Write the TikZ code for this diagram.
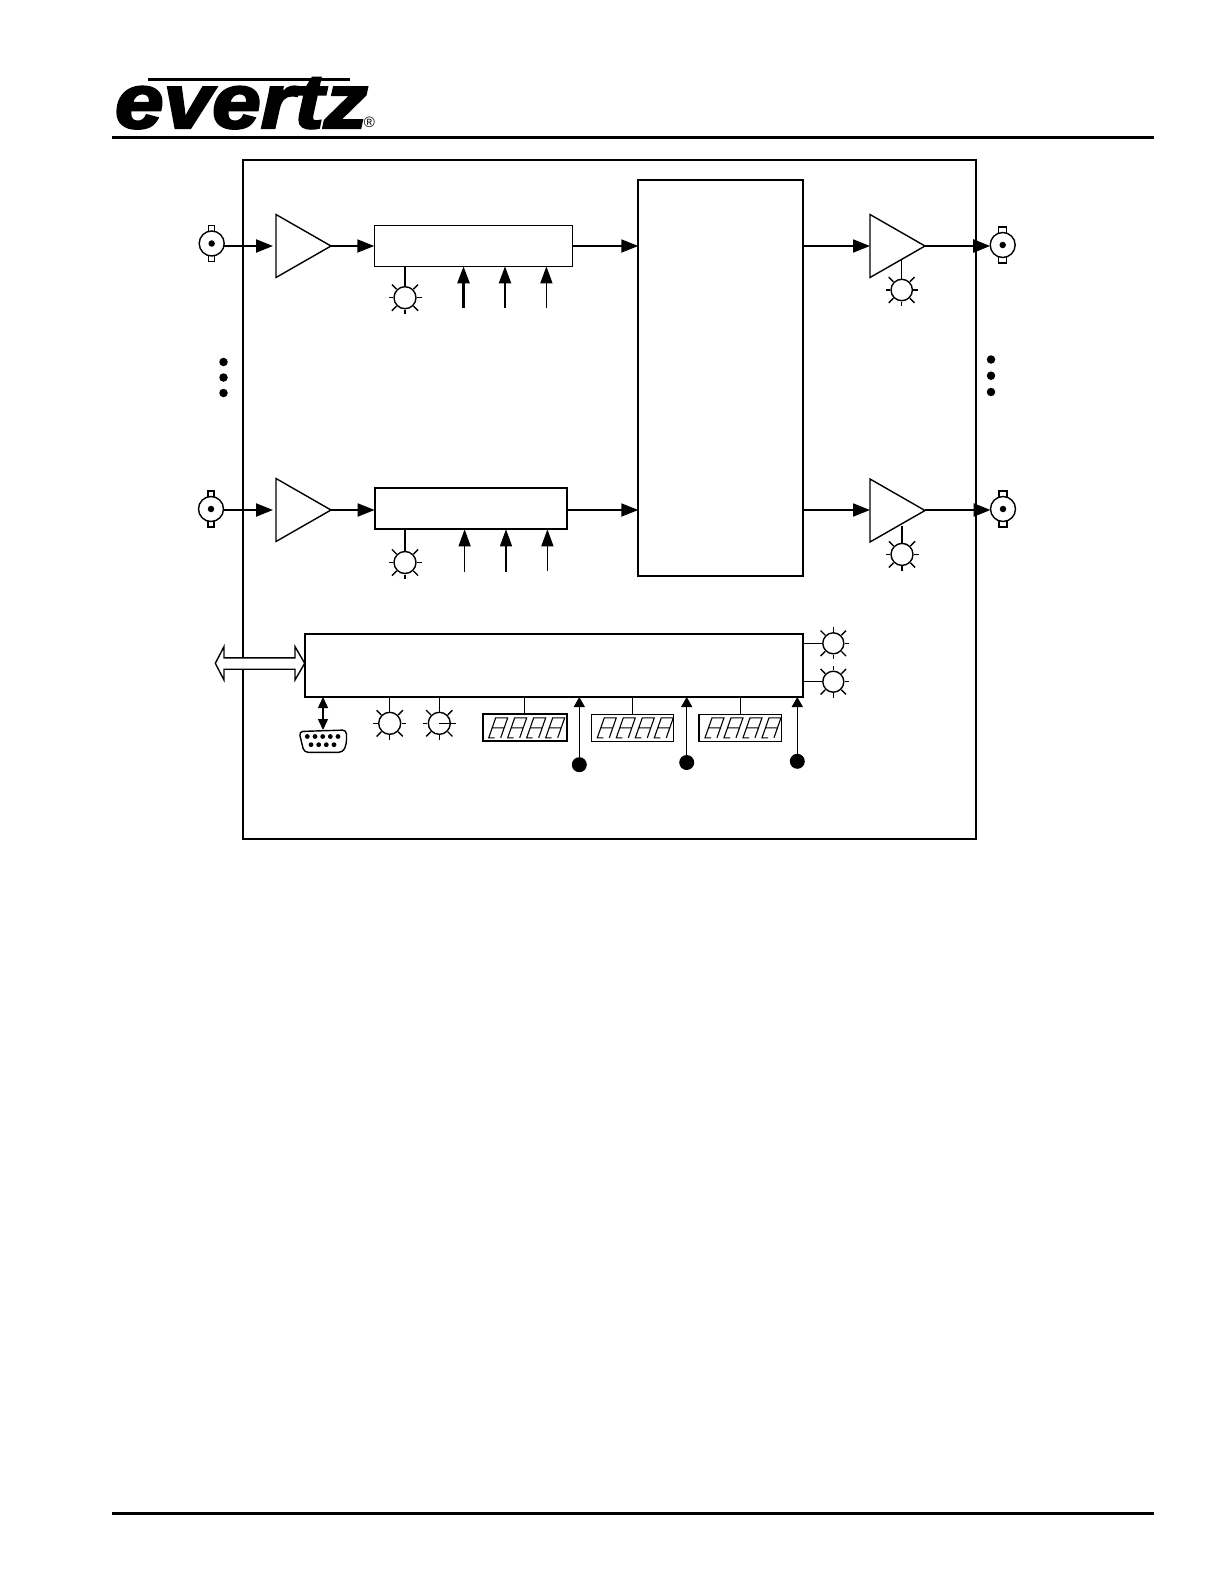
\documentclass[tikz,border=0pt]{standalone}
\usepackage{fontspec}
\usetikzlibrary{arrows.meta,shapes.geometric,calc}
\newfontfamily\logofont[BoldItalicFeatures={FakeBold=3}]{Liberation Sans}
\newfontfamily\markfont{Liberation Sans}
\tikzset{
  x=1pt,y=-1pt,
  every node/.style={inner sep=0pt,outer sep=0pt},
  ln/.style={line width=1.4pt},
  tie/.style={line width=1.1pt},
  flow/.style={line width=1.8pt},
  heavy/.style={line width=2.2pt},
  head/.style={-{Triangle[length=17pt,width=13pt]}},
  ctlhead/.style={-{Triangle[length=17pt,width=12pt]}},
  smallhead/.style={-{Triangle[length=10pt,width=11pt]}},
  block/.style={draw,line width=1.4pt,anchor=north west,fill=white},
  amp/.style={draw,line width=1.4pt,isosceles triangle,isosceles triangle stretches,
     minimum width=63pt,minimum height=55pt,anchor=west,fill=white},
  lamp/.style={draw,circle,line width=1.4pt,fill=white},
  bncbody/.style={draw,circle,line width=1.4pt,fill=white,minimum size=25pt},
  pin/.style={circle,fill=black,minimum size=#1},
  readout/.style={draw,anchor=north west,minimum height=27pt,fill=white},
  seg/.style={line width=1.1pt,line join=miter},
}
\newcommand{\lampat}[4]{% name, x, y, radius
  \node[lamp,minimum size=#4*2pt] (#1) at (#2,#3) {};
  \foreach \a in {0,90,180,270}
    \draw[ln] ($(#2,#3)$) ++(\a:#4+1) -- ++(\a:4.5);
  \foreach \a in {45,135,225,315}
    \draw[ln] ($(#2,#3)$) ++(\a:#4+1) -- ++(\a:6.5);
}
\newcommand{\bncat}[4]{% name, x, y, tab width
  \draw[ln,fill=white] (#2-#4/2,#3-18) rectangle (#2+#4/2,#3+18);
  \node[bncbody] (#1) at (#2,#3) {};
  \node[pin=6.5pt] at (#1.center) {};
}
\newcommand{\digitsat}[2]{% left x of readout, top y
  \foreach \i in {0,1,2,3}{
    \draw[seg] ($(#1+6+\i*19+6,#2+23.5)$) -- ++(-6,0) -- ++(7,-20) -- ++(12,0) -- ++(-7,20)
       ($(#1+9.5+\i*19,#2+13.5)$) -- ++(12,0);
  }
}
\begin{document}
\begin{tikzpicture}
\useasboundingbox (0,0) rectangle (1224,1584);
% header
\draw[line width=3pt] (148,79.3) -- (350,79.3);
\node[anchor=base west,font=\logofont\bfseries\itshape\fontsize{77}{77}\selectfont,xscale=1.135] (logo) at (115,128) {evertz};
\node[font=\markfont\fontsize{15}{15}\selectfont] (reg) at (369.3,122.3) {®};
\draw[line width=3pt] (112,137.5) -- (1154,137.5);
\draw[line width=3pt] (112,1513) -- (1154,1513);
% outer frame
\node[draw,line width=2pt,anchor=north west,minimum width=733pt,minimum height=679.5pt] (frame) at (243,159.5) {};
% dots
\foreach \n/\x/\y in {a/223.5/362,b/223.5/377.5,c/223.5/393,d/991/359.5,e/991/375.7,f/991/392}
  \node[pin=8.5pt] (dot\n) at (\x,\y) {};
% matrix
\node[block,line width=1.7pt,minimum width=165pt,minimum height=396pt] (core) at (638.3,179.8) {};
% row 1
\bncat{inA}{211.7}{243.5}{6}
\node[amp] (ampA) at (276,246) {};
\node[block,minimum width=198pt,minimum height=41pt] (procA) at (374.3,225.3) {};
\node[amp] (drvA) at (870,246) {};
\bncat{outA}{1002.7}{245}{8}
\draw[heavy,head] (inA.east |- ampA.west) -- ([xshift=-3pt]ampA.west);
\draw[flow,head] (ampA.apex) -- (procA.west |- ampA.apex);
\draw[flow,head] (procA.east |- ampA.apex) -- (core.west |- ampA.apex);
\draw[flow,head] (core.east |- drvA.west) -- (drvA.west);
\draw[line width=2.5pt,head] (drvA.apex) -- (outA.west |- drvA.apex);
\lampat{ledA}{405}{297.7}{11}
\draw[ln] (ledA.north) -- (ledA.north |- procA.south);
\lampat{ledAo}{901.7}{290}{10.7}
\draw[ln] (ledAo.north) -- (901.7,259.3);
\coordinate (ca1) at (463.5,308); \coordinate (ca2) at (505,308); \coordinate (ca3) at (546.4,308);
\draw[line width=2.5pt,ctlhead] (ca1) -- (ca1 |- procA.south);
\draw[heavy,ctlhead] (ca2) -- (ca2 |- procA.south);
\draw[ln,ctlhead] (ca3) -- (ca3 |- procA.south);
% row 2
\bncat{inB}{211}{509}{6}
\node[amp] (ampB) at (276,510) {};
\node[block,line width=1.9pt,minimum width=192pt,minimum height=41.5pt] (procB) at (374.7,487.8) {};
\node[amp] (drvB) at (870,510.5) {};
\bncat{outB}{1003}{509}{8}
\draw[heavy,head] (inB.east |- ampB.west) -- ([xshift=-3pt]ampB.west);
\draw[flow,head] (ampB.apex) -- (procB.west |- ampB.apex);
\draw[flow,head] (procB.east |- ampB.apex) -- (core.west |- ampB.apex);
\draw[flow,head] (core.east |- ampB.apex) -- (drvB.west |- ampB.apex);
\draw[line width=2.5pt,head] (drvB.apex |- ampB.apex) -- (outB.west |- ampB.apex);
\lampat{ledB}{405}{562.5}{11}
\draw[ln] (ledB.north) -- (ledB.north |- procB.south);
\lampat{ledBo}{902}{554.4}{11}
\draw[ln] (ledBo.north) -- (902,526);
\coordinate (cb1) at (464.6,571.6); \coordinate (cb2) at (506,571.6); \coordinate (cb3) at (547.4,571);
\draw[ln,ctlhead] (cb1) -- (cb1 |- procB.south);
\draw[ln,ctlhead] (cb2) -- (cb2 |- procB.south);
\draw[ln,ctlhead] (cb3) -- (cb3 |- procB.south);
% control block
\node[block,line width=2.2pt,minimum width=498.6pt,minimum height=63pt] (ctrl) at (304.7,634) {};
\coordinate (busL) at (215.3,663.3);
\draw[line width=1.4pt,fill=white] (busL) -- (224,646.6) -- (224,657.8) -- (295,657.8) -- (295,646.6) -- (ctrl.west |- busL) -- (295,680) -- (295,669.2) -- (224,669.2) -- (224,680) -- cycle;
\lampat{ledC}{833.3}{643.3}{10.5}
\lampat{ledD}{833.3}{681.7}{10.5}
\draw[ln] (ledC.west) -- (ledC.west -| ctrl.east);
\draw[ln] (ledD.west) -- (ledD.west -| ctrl.east);
% serial port
\node[minimum width=48pt,minimum height=22pt] (port) at (323,741) {};
\draw[ln,rounded corners=4pt] (299,731.5) -- (346.5,730) -- (346.5,744) -- (343,752.3) -- (304,752.3) -- cycle;
\foreach \x in {307.3,315,322.7,330.3,338} \node[pin=4.8pt] at (\x,736.5) {};
\foreach \x in {311,318.7,326.3,334} \node[pin=4.8pt] at (\x,744.7) {};
\draw[ln,{Triangle[length=11pt,width=10pt]}-{Triangle[length=11pt,width=10pt]}] (port.north |- ctrl.south) -- (port.north);
% lamps below
\lampat{ledE}{389.7}{723.3}{11}
\draw[tie] (ledE.north) -- (ledE.north |- ctrl.south);
\lampat{ledF}{439.3}{723.3}{11}
\draw[tie] (ledF.north) -- (ledF.north |- ctrl.south);
\draw[ln] (ledF.center) -- (ledF.east);
% readouts
\node[readout,line width=2.2pt,minimum width=84.3pt] (dispA) at (482.7,714.3) {};
\digitsat{482.7}{714.3}
\node[readout,line width=1.2pt,minimum width=82.3pt] (dispB) at (591.3,714.3) {};
\digitsat{591.3}{714.3}
\node[readout,line width=1.2pt,minimum width=82.7pt] (dispC) at (699,714.3) {};
\digitsat{699}{714.3}
\draw[tie] (dispA.north) -- (dispA.north |- ctrl.south);
\draw[tie] (dispB.north) -- (dispB.north |- ctrl.south);
\draw[tie] (dispC.north) -- (dispC.north |- ctrl.south);
% buttons
\node[pin=15pt] (btnA) at (579.3,764.7) {};
\node[pin=15pt] (btnB) at (686.7,762.5) {};
\node[pin=15pt] (btnC) at (797.3,761.3) {};
\draw[ln,smallhead] (btnA) -- (btnA |- ctrl.south);
\draw[ln,smallhead] (btnB) -- (btnB |- ctrl.south);
\draw[ln,smallhead] (btnC) -- (btnC |- ctrl.south);
\end{tikzpicture}
\end{document}
